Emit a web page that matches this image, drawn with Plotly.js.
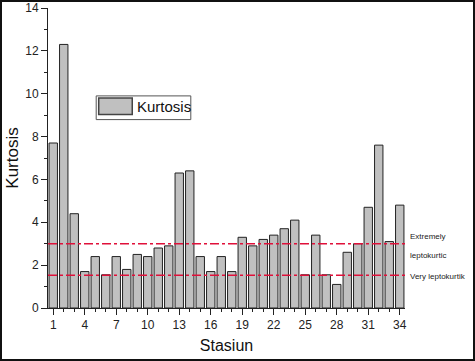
<!DOCTYPE html>
<html><head><meta charset="utf-8">
<script src="https://cdn.plot.ly/plotly-3.0.1.min.js"></script>
<style>
html,body{margin:0;padding:0;background:#fff;}
#wrap{position:relative;width:475px;height:361px;}
#frame{position:absolute;left:0;top:0;width:471px;height:357px;border:2px solid #111;pointer-events:none;}
</style></head>
<body><div id="wrap"><div id="chart" style="width:475px;height:361px;"></div><div id="frame"></div></div>
<script>
const stations = [1,2,3,4,5,6,7,8,9,10,11,12,13,14,15,16,17,18,19,20,21,22,23,24,25,26,27,28,29,30,31,32,33,34];
const kurtosis = [7.7,12.3,4.4,1.7,2.4,1.55,2.4,1.8,2.5,2.4,2.8,2.9,6.3,6.4,2.4,1.7,2.4,1.7,3.3,2.9,3.2,3.4,3.7,4.1,1.55,3.4,1.55,1.1,2.6,3.0,4.7,7.6,3.1,4.8];
const thresholds = [3.0, 1.53];
const thresholdLabels = ["Extremely", "leptokurtic", "Very leptokurtik"];
const labelLevels = [3.35, 2.46, 1.48];
const seriesName = "Kurtosis";

const font = "Liberation Sans, Arial, sans-serif";
const barColor = '#c0c0c0';
const data = [{
  type: 'bar', x: stations, y: kurtosis, name: seriesName, width: 0.8, showlegend: false,
  marker: {color: barColor, line: {color: '#222', width: 1}}
}];
const shapes = thresholds.map(t => ({
  type: 'line', xref: 'paper', x0: 0, x1: 1, yref: 'y', y0: t, y1: t,
  line: {color: '#e0103a', width: 1.6, dash: 'dashdot'}
}));
// legend box (paper coords)
shapes.push({type: 'rect', xref: 'paper', yref: 'paper', x0: 0.135, x1: 0.400, y0: 0.628, y1: 0.707,
  line: {color: '#555', width: 1}, fillcolor: '#fff', layer: 'above'});
shapes.push({type: 'rect', xref: 'paper', yref: 'paper', x0: 0.142, x1: 0.236, y0: 0.645, y1: 0.700,
  line: {color: '#444', width: 1.5}, fillcolor: barColor, layer: 'above'});
const annotations = thresholdLabels.map((s, i) => ({
  xref: 'paper', x: 1.008, xanchor: 'left', yref: 'y', y: labelLevels[i], yanchor: 'middle',
  text: s, showarrow: false, font: {family: font, size: 8, color: '#222'}
}));
annotations.push({xref: 'paper', yref: 'paper', x: 0.245, y: 0.672, xanchor: 'left', yanchor: 'middle',
  text: seriesName, showarrow: false, font: {family: font, size: 15, color: '#111'}});
const layout = {
  width: 475, height: 361,
  margin: {l: 48, r: 70, t: 8, b: 53},
  paper_bgcolor: '#fff', plot_bgcolor: '#fff',
  font: {family: font, color: '#222'},
  showlegend: false,
  xaxis: {
    range: [0.5, 34.5], tickmode: 'linear', tick0: 1, dtick: 3,
    ticks: 'outside', ticklen: 6, tickcolor: '#222', showline: true, linecolor: '#222', linewidth: 1,
    showgrid: false, zeroline: false,
    minor: {dtick: 1, tick0: 1, ticks: 'outside', ticklen: 3, tickcolor: '#222', showgrid: false},
    tickfont: {size: 12, color: '#222'},
    title: {text: 'Stasiun', font: {size: 16, color: '#111'}, standoff: 8}
  },
  yaxis: {
    range: [0, 14], tickmode: 'linear', tick0: 0, dtick: 2,
    ticks: 'outside', ticklen: 6, tickcolor: '#222', showline: true, linecolor: '#222', linewidth: 1,
    showgrid: false, zeroline: false,
    minor: {dtick: 1, ticks: 'outside', ticklen: 3, tickcolor: '#222', showgrid: false},
    tickfont: {size: 12, color: '#222'},
    title: {text: 'Kurtosis', font: {size: 17, color: '#111'}, standoff: 2}
  },
  bargap: 0.2,
  shapes: shapes,
  annotations: annotations
};
Plotly.newPlot('chart', data, layout, {staticPlot: true, displayModeBar: false});
</script></body></html>
